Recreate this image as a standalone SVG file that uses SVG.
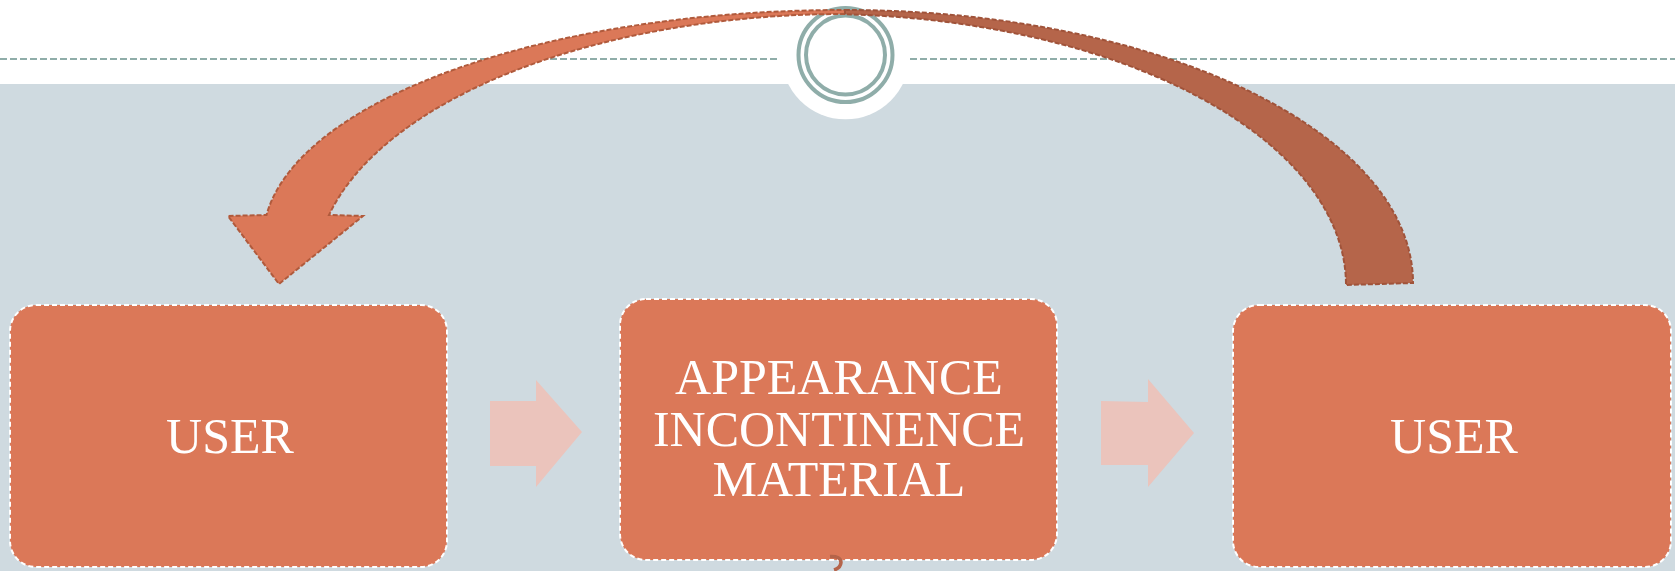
<svg xmlns="http://www.w3.org/2000/svg" width="1675" height="571" viewBox="0 0 1675 571">
  <style>
    .box { fill: #DB7858; stroke: #FFFFFF; stroke-width: 2; stroke-dasharray: 5 3; }
    .lbl { font-family: "Liberation Serif", "Times New Roman", serif; font-size: 50px; fill: #FFFFFF; text-anchor: middle; }
    .flow { fill: #EBC4BC; }
    .guide { stroke: #8FADA9; stroke-width: 2; stroke-dasharray: 7 3; fill: none; }
    .ring { fill: none; stroke: #8FADA9; stroke-width: 4; }
    .curveL { fill: #DB7858; stroke: #B05A3C; stroke-width: 2; stroke-dasharray: 5 2; }
    .curveR { fill: #B5654A; stroke: #A0533A; stroke-width: 2; stroke-dasharray: 5 2; }
  </style>
  <rect x="0" y="0" width="1675" height="571" fill="#FFFFFF"/>
  <rect x="0" y="84" width="1675" height="487" fill="#CFDAE0"/>
  <line class="guide" x1="0" y1="59" x2="780" y2="59"/>
  <line class="guide" x1="910" y1="59" x2="1675" y2="59"/>
  <g id="emblem">
    <circle cx="845.5" cy="55" r="64.3" fill="#FFFFFF"/>
    <circle class="ring" cx="845.5" cy="55" r="47"/>
    <circle class="ring" cx="845.5" cy="55" r="39.5"/>
  </g>
  <g id="node-user-left">
    <rect class="box" x="10" y="305" width="437" height="262" rx="26" ry="26"/>
    <text class="lbl" x="230" y="453">USER</text>
  </g>
  <g id="node-material">
    <rect class="box" x="620" y="299" width="437" height="261" rx="26" ry="26"/>
    <text class="lbl" x="839" y="394">APPEARANCE</text>
    <text class="lbl" x="839" y="446">INCONTINENCE</text>
    <text class="lbl" x="839" y="496">MATERIAL</text>
  </g>
  <g id="node-user-right">
    <rect class="box" x="1233" y="305" width="438" height="262" rx="26" ry="26"/>
    <text class="lbl" x="1454" y="453">USER</text>
  </g>
  <g id="connectors">
    <polygon class="flow" points="490,401 536,401 536,380 582,432 536,487 536,466 490,466"/>
    <polygon class="flow" points="1101,401 1148,402 1148,379 1194,433 1148,487 1148,465 1101,465"/>
    <path class="curveL" d="M845,14 A530 260 0 0 0 329,215 L363,216 L279,284 L228,216 L266.5,215 A582 230 0 0 1 845,10 Z"/>
    <path class="curveR" d="M845,10 A568 273 0 0 1 1413,283 L1346,285 A526 271 0 0 0 845,14.3 Z"/>
    <path d="M830,556.5 Q841,556 841,562.5 Q840.5,568 834,570" fill="none" stroke="#B5644A" stroke-width="3.5"/>
  </g>
</svg>
